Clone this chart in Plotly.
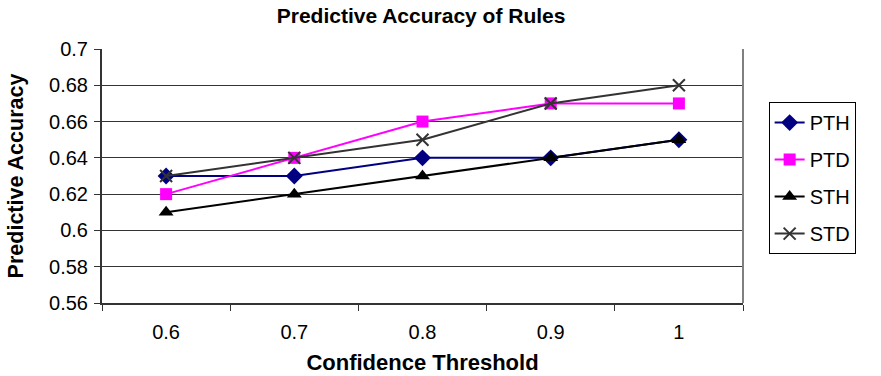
import plotly.graph_objects as go

categories = ["0.6", "0.7", "0.8", "0.9", "1"]
pth = [0.63, 0.63, 0.64, 0.64, 0.65]
ptd = [0.62, 0.64, 0.66, 0.67, 0.67]
sth = [0.61, 0.62, 0.63, 0.64, 0.65]
std = [0.63, 0.64, 0.65, 0.67, 0.68]
y_ticks = [0.56, 0.58, 0.6, 0.62, 0.64, 0.66, 0.68, 0.7]
y_tick_text = ["0.56", "0.58", "0.6", "0.62", "0.64", "0.66", "0.68", "0.7"]

FONT = "Liberation Sans, Arial, sans-serif"

series = [
    ("PTH", pth, "#000080", dict(symbol="diamond", size=13, color="#000080")),
    ("PTD", ptd, "#FF00FF", dict(symbol="square", size=12, color="#FF00FF")),
    ("STH", sth, "#000000", dict(symbol="triangle-up", size=13, color="#000000")),
    ("STD", std, "#333333", dict(symbol="x-thin", size=12,
                                  line=dict(color="#333333", width=2))),
]

fig = go.Figure()
for name, vals, col, mk in series:
    fig.add_trace(go.Scatter(
        x=categories, y=vals, name=name, mode="lines+markers",
        line=dict(color=col, width=2),
        marker=mk, legendgroup=name,
    ))

fig.update_layout(
    width=881, height=376,
    margin=dict(l=102, r=138, t=49, b=73, autoexpand=False),
    paper_bgcolor="white", plot_bgcolor="white",
    font=dict(family=FONT, size=20, color="black"),
    title=dict(text="<b>Predictive Accuracy of Rules</b>", x=0.478, xanchor="center",
               y=0.958, yanchor="middle", font=dict(size=21)),
    showlegend=True,
    legend=dict(x=1.04, xanchor="left", y=0.791, yanchor="top",
                bordercolor="black", borderwidth=1, bgcolor="white",
                font=dict(size=20), tracegroupgap=8, itemwidth=30),
)

fig.update_xaxes(
    type="category", tickson="boundaries", ticks="outside", ticklen=6,
    tickcolor="#333333", showline=True, linecolor="#333333", linewidth=2,
    showgrid=False, range=[-0.5, 4.5], ticklabelstandoff=10, automargin=False,
    title=dict(text="<b>Confidence Threshold</b>", font=dict(size=22), standoff=13),
    tickfont=dict(size=20),
)
fig.update_yaxes(
    range=[0.56, 0.7], tickvals=y_ticks, ticktext=y_tick_text,
    ticks="outside", ticklen=6, tickcolor="#333333", automargin=False,
    showline=True, linecolor="#333333", linewidth=2, ticklabelstandoff=2,
    showgrid=True, gridcolor="#333333", gridwidth=1, zeroline=False,
    title=dict(text="<b>Predictive Accuracy</b>", font=dict(size=21.5), standoff=20),
    tickfont=dict(size=20),
)

fig.add_shape(type="line", xref="paper", yref="paper", x0=1, x1=1, y0=0, y1=1,
              line=dict(color="#808080", width=2))

fig.write_html("out.html")
